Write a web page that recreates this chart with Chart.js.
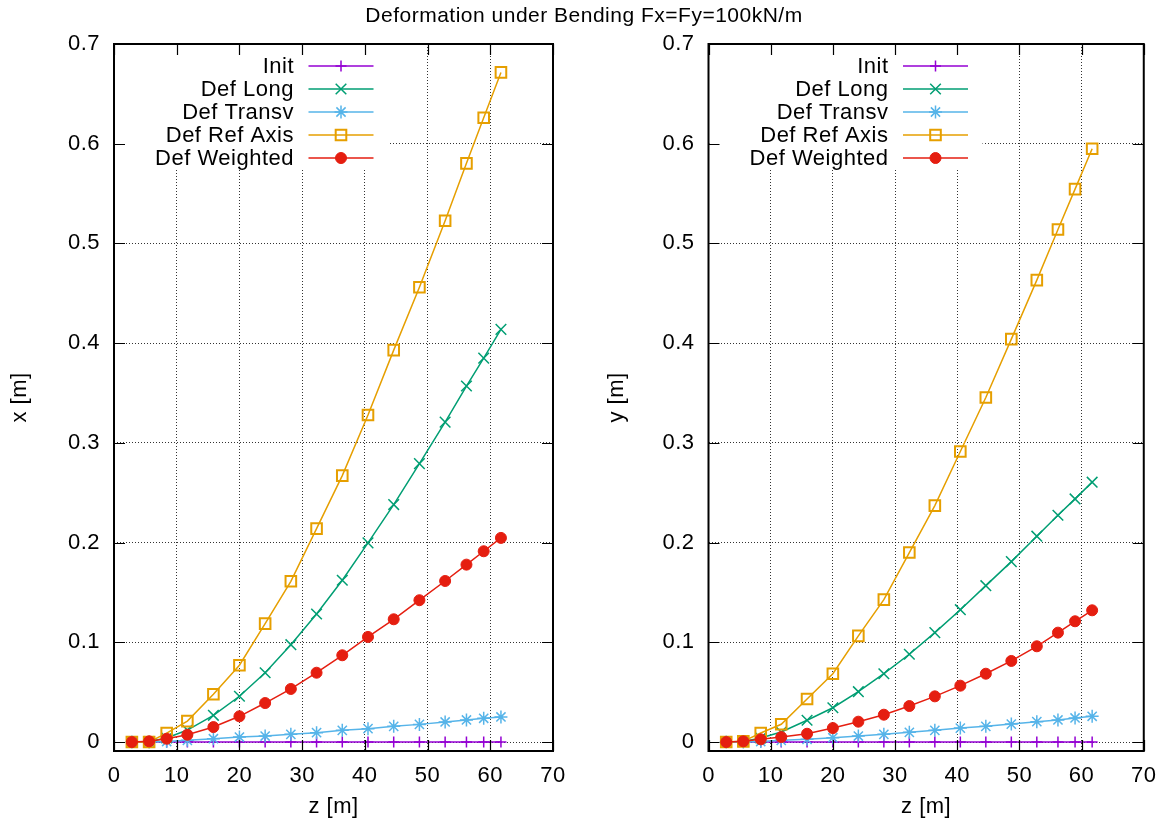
<!DOCTYPE html>
<html><head><meta charset="utf-8">
<script src="https://cdn.jsdelivr.net/npm/chart.js@4"></script>
<style>html,body{margin:0;padding:0;background:#fff;overflow:hidden;} canvas{position:absolute;left:0;top:0;}</style>
</head><body>
<canvas id="c1" width="1168" height="825"></canvas>
<canvas id="c2" width="1168" height="825"></canvas>
<script>
const chartTitle = 'Deformation under Bending Fx=Fy=100kN/m';
const seriesNames = ['Init', 'Def Long', 'Def Transv', 'Def Ref Axis', 'Def Weighted'];
const zValues = [2.85, 5.6, 8.4, 11.7, 15.85, 20.0, 24.1, 28.2, 32.3, 36.4, 40.5, 44.6, 48.7, 52.8, 56.2, 58.95, 61.7];

const xDefInit     = [0,0,0,0,0,0,0,0,0,0,0,0,0,0,0,0,0];
const xDefLong     = [0, 0.0005, 0.004, 0.012, 0.0268, 0.0459, 0.0695, 0.0976, 0.1284, 0.1622, 0.1997, 0.2381, 0.2792, 0.3208, 0.357, 0.385, 0.4138];
const xDefTransv   = [0, 0, 0.0005, 0.0017, 0.0033, 0.005, 0.006, 0.0077, 0.0094, 0.0117, 0.0134, 0.0157, 0.0177, 0.0201, 0.0221, 0.0238, 0.0251];
const xDefRefAxis  = [0, 0, 0.009, 0.021, 0.0479, 0.077, 0.1187, 0.1612, 0.214, 0.2672, 0.328, 0.393, 0.456, 0.5227, 0.5803, 0.626, 0.6715];
const xDefWeighted = [0, 0.0007, 0.0033, 0.0073, 0.015, 0.0258, 0.0391, 0.0532, 0.0695, 0.087, 0.1054, 0.1231, 0.1422, 0.1615, 0.1779, 0.1913, 0.2047];

const yDefInit     = [0,0,0,0,0,0,0,0,0,0,0,0,0,0,0,0,0];
const yDefLong     = [0, 0.0005, 0.004, 0.01, 0.0218, 0.0344, 0.0505, 0.0685, 0.088, 0.1097, 0.1327, 0.1568, 0.1809, 0.2064, 0.2274, 0.2438, 0.2606];
const yDefTransv   = [0, 0, 0.0005, 0.0017, 0.0027, 0.0043, 0.006, 0.0077, 0.0097, 0.0117, 0.014, 0.0157, 0.018, 0.0204, 0.0221, 0.0241, 0.0258];
const yDefRefAxis  = [0, 0.0007, 0.009, 0.0178, 0.0431, 0.0685, 0.1064, 0.1428, 0.19, 0.2371, 0.2913, 0.3455, 0.404, 0.4632, 0.514, 0.5545, 0.595];
const yDefWeighted = [0, 0.0007, 0.0027, 0.005, 0.0083, 0.014, 0.0204, 0.0274, 0.0361, 0.0458, 0.0565, 0.0685, 0.0813, 0.096, 0.1097, 0.1211, 0.1321];

const zTickValues = [0, 10, 20, 30, 40, 50, 60, 70];
const zTickLabels = ['0', '10', '20', '30', '40', '50', '60', '70'];
const dTickValues = [0, 0.1, 0.2, 0.3, 0.4, 0.5, 0.6, 0.7];
const dTickLabels = ['0', '0.1', '0.2', '0.3', '0.4', '0.5', '0.6', '0.7'];

const FONT = 'Liberation Sans, Arial, sans-serif';
const FS = 22;
const colors = ['#9400d3', '#009e73', '#56b4e9', '#e69f00', '#e51e10'];
const pStyles = ['cross', 'crossRot', 'star', 'rect', 'circle'];
const pRadius = [5.5, 7.5, 6.5, 7.5, 5.5];
const pBorder = [1.5, 1.5, 1.5, 2, 1];
const pFill = ['rgba(0,0,0,0)', 'rgba(0,0,0,0)', 'rgba(0,0,0,0)', 'rgba(0,0,0,0)', '#e51e10'];

function drawMarker(ctx, i, x, y) {
  ctx.save();
  ctx.strokeStyle = colors[i];
  ctx.fillStyle = pFill[i];
  ctx.lineWidth = pBorder[i];
  if (Chart.helpers && Chart.helpers.drawPoint) {
    Chart.helpers.drawPoint(ctx, {pointStyle: pStyles[i], radius: pRadius[i], borderWidth: pBorder[i], rotation: 0}, x, y);
  }
  ctx.restore();
}

function gnuplotPlugin(withTitle) {
  return {
    id: 'gnuplotLook',
    beforeInit(chart) {
      chart.ctx.letterSpacing = '0.5px';
    },
    beforeDraw(chart) {
      chart.ctx.letterSpacing = '0.5px';
    },
    beforeDatasetsDraw(chart) {
      const a = chart.chartArea, ctx = chart.ctx;
      ctx.save();
      ctx.fillStyle = '#ffffff';
      ctx.fillRect(a.left + 1, a.top + 1, 273, 125);
      ctx.restore();
    },
    afterDraw(chart) {
      const a = chart.chartArea, ctx = chart.ctx;
      const xs = chart.scales.x, ys = chart.scales.y;
      ctx.save();
      // inward tics
      ctx.strokeStyle = '#000';
      ctx.lineWidth = 1.2;
      ctx.beginPath();
      zTickValues.forEach(v => {
        const px = Math.round(xs.getPixelForValue(v)) + 0.5;
        ctx.moveTo(px, a.bottom); ctx.lineTo(px, a.bottom - 11);
        ctx.moveTo(px, a.top); ctx.lineTo(px, a.top + 11);
      });
      dTickValues.forEach(v => {
        const py = Math.round(ys.getPixelForValue(v)) + 0.5;
        ctx.moveTo(a.left, py); ctx.lineTo(a.left + 11, py);
        ctx.moveTo(a.right, py); ctx.lineTo(a.right - 11, py);
      });
      ctx.stroke();
      // frame
      ctx.lineWidth = 2;
      ctx.strokeRect(a.left, a.top, a.right - a.left, a.bottom - a.top);
      // key
      ctx.font = FS + 'px ' + FONT;
      ctx.textBaseline = 'middle';
      ctx.textAlign = 'right';
      chart.data.datasets.forEach((ds, i) => {
        const y = a.top + 22 + i * 23;
        ctx.fillStyle = '#000';
        ctx.fillText(ds.label, a.left + 180, y + 1);
        ctx.strokeStyle = ds.borderColor;
        ctx.lineWidth = 1.5;
        ctx.beginPath();
        ctx.moveTo(a.left + 194.5, y); ctx.lineTo(a.left + 259.5, y);
        ctx.stroke();
        drawMarker(ctx, i, a.left + 227, y);
      });
      if (withTitle) {
        ctx.fillStyle = '#000';
        ctx.textAlign = 'center';
        ctx.font = '21px ' + FONT;
        ctx.fillText(chartTitle, 584, 16);
      }
      ctx.restore();
    }
  };
}

function makeChart(id, yLabel, series, padLeft, padRight, yWidth, yTitlePad, withTitle) {
  const datasets = series.map((vals, i) => ({
    label: seriesNames[i],
    data: zValues.map((z, k) => ({x: z, y: vals[k]})),
    borderColor: colors[i],
    backgroundColor: colors[i],
    borderWidth: 1.5,
    pointStyle: pStyles[i],
    pointRadius: pRadius[i],
    pointHoverRadius: pRadius[i],
    pointBorderWidth: pBorder[i],
    pointBorderColor: colors[i],
    pointBackgroundColor: pFill[i],
    showLine: true,
    tension: 0,
    fill: false,
    order: 4 - i,
    clip: 8
  }));
  return new Chart(document.getElementById(id), {
    type: 'scatter',
    data: {datasets},
    plugins: [gnuplotPlugin(withTitle)],
    options: {
      responsive: false,
      animation: false,
      devicePixelRatio: 1,
      layout: {padding: {left: padLeft, right: padRight, top: 44, bottom: 0}},
      plugins: {legend: {display: false}, tooltip: {enabled: false}, title: {display: false}},
      scales: {
        x: {
          type: 'linear', min: 0, max: 70,
          afterBuildTicks: s => { s.ticks = zTickValues.map(v => ({value: v})); },
          afterFit: s => { s.height = 74; },
          ticks: {
            color: '#000', font: {family: FONT, size: FS}, padding: 12,
            maxRotation: 0, autoSkip: false,
            callback: (v, i) => zTickLabels[i]
          },
          grid: {color: 'rgba(0,0,0,0.8)', lineWidth: 1, drawTicks: false},
          border: {display: false, dash: [1, 2]},
          title: {display: true, text: 'z [m]', color: '#000', font: {family: FONT, size: FS}, padding: {top: 0, bottom: 5}}
        },
        y: {
          type: 'linear', min: -0.009, max: 0.7,
          afterBuildTicks: s => { s.ticks = dTickValues.map(v => ({value: v})); },
          afterFit: s => { s.width = yWidth; },
          ticks: {
            color: '#000', font: {family: FONT, size: FS}, padding: 14,
            autoSkip: false,
            callback: (v, i) => dTickLabels[i]
          },
          grid: {color: 'rgba(0,0,0,0.8)', lineWidth: 1, drawTicks: false},
          border: {display: false, dash: [1, 2]},
          title: {display: true, text: yLabel, color: '#000', font: {family: FONT, size: FS}, padding: {top: yTitlePad, bottom: 0}}
        }
      }
    }
  });
}

makeChart('c1', 'x [m]', [xDefInit, xDefLong, xDefTransv, xDefRefAxis, xDefWeighted], 0, 615, 114, 7, true);
makeChart('c2', 'y [m]', [yDefInit, yDefLong, yDefTransv, yDefRefAxis, yDefWeighted], 584, 21, 124.5, 20, false);
</script>
</body></html>
